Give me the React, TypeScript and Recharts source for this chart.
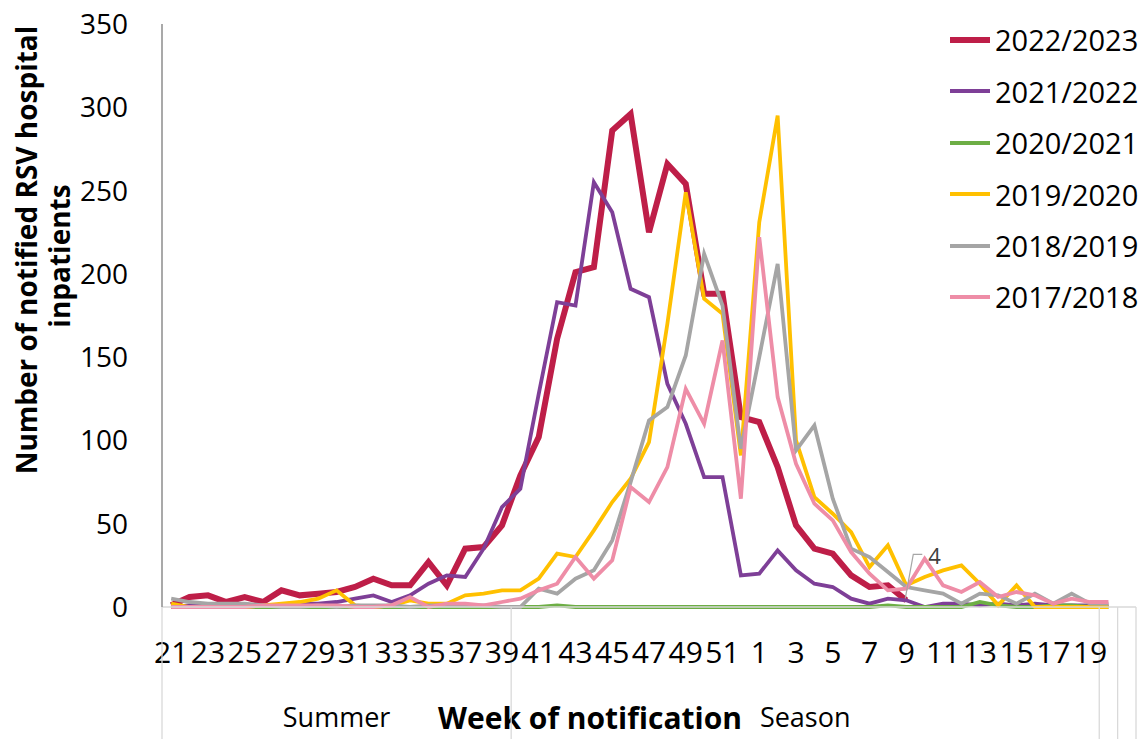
import React from 'react';
import { LineChart, Line, XAxis, YAxis, Legend, LabelList } from 'recharts';

// Week of notification: summer weeks 21-39, season weeks 40-19, then week 20 and a spare slot
const weeks = [
  '21', '22', '23', '24', '25', '26', '27', '28', '29', '30', '31', '32', '33', '34', '35', '36', '37', '38', '39',
  '40', '41', '42', '43', '44', '45', '46', '47', '48', '49', '50', '51', '52',
  '1', '2', '3', '4', '5', '6', '7', '8', '9', '10', '11', '12', '13', '14', '15', '16', '17', '18', '19', '20',
  ' ',
];

// Axis group bands (start index, end index) under the week labels
const groups = [
  { name: 'Summer', from: 0, to: 18 },
  { name: 'Season', from: 19, to: 50 },
  { name: '', from: 51, to: 51 },
  { name: '', from: 52, to: 52 },
];

const yTicks = [0, 50, 100, 150, 200, 250, 300, 350];

// Weekly counts of notified RSV hospital inpatients, from week 21 onwards
const season2022_23 = [
  1, 6, 7, 3, 6, 3, 10, 7, 8, 9, 12, 17, 13, 13, 27, 13, 35, 36, 49,
  79, 102, 161, 201, 204, 286, 296, 225, 266, 254, 188, 188, 114,
  111, 84, 49, 35, 32, 19, 12, 13, 4,
];
const season2021_22 = [
  0, 1, 1, 1, 0, 1, 1, 2, 2, 3, 5, 7, 3, 7, 14, 19, 18, 35, 60,
  71, 128, 183, 181, 255, 237, 191, 186, 134, 110, 78, 78, 19,
  20, 34, 22, 14, 12, 5, 2, 5, 4, 0, 2, 2, 1, 2, 1, 2, 1, 1, 1, 1,
];
const season2020_21 = [
  0, 0, 0, 0, 0, 0, 0, 0, 0, 0, 0, 0, 0, 0, 0, 0, 0, 0, 0,
  0, 0, 1, 0, 0, 0, 0, 0, 0, 0, 0, 0, 0,
  0, 0, 0, 0, 0, 0, 0, 1, 0, 0, 0, 0, 3, 1, 0, 0, 1, 1, 0, 0,
];
const season2019_20 = [
  2, 0, 0, 0, 0, 1, 2, 3, 5, 10, 1, 0, 1, 4, 2, 2, 7, 8, 10,
  10, 17, 32, 30, 46, 63, 77, 99, 170, 249, 185, 176, 91,
  231, 295, 100, 66, 56, 45, 24, 37, 13, 18, 22, 25, 14, 1, 13, 0, 0, 0, 0, 0,
];
const season2018_19 = [
  5, 3, 2, 2, 2, 1, 0, 0, 1, 0, 1, 1, 1, 0, 1, 1, 1, 1, 0,
  0, 11, 8, 17, 22, 40, 75, 112, 120, 151, 212, 181, 95,
  150, 206, 94, 109, 65, 35, 30, 21, 12, 10, 8, 2, 8, 7, 2, 8, 2, 8, 2, 2,
];
const season2017_18 = [
  0, 0, 0, 0, 0, 1, 1, 1, 1, 1, 0, 0, 1, 6, 0, 2, 2, 1, 3,
  5, 10, 14, 30, 17, 28, 72, 63, 84, 131, 110, 160, 65,
  222, 126, 86, 62, 52, 33, 20, 10, 11, 29, 13, 9, 15, 6, 9, 7, 2, 5, 3, 3,
];

const series = [
  { key: 's2223', name: '2022/2023', color: '#BE1E48', width: 6, values: season2022_23 },
  { key: 's2122', name: '2021/2022', color: '#7E3F97', width: 3.8, values: season2021_22 },
  { key: 's2021', name: '2020/2021', color: '#6DAE45', width: 3.8, values: season2020_21 },
  { key: 's1920', name: '2019/2020', color: '#FFC000', width: 3.8, values: season2019_20 },
  { key: 's1819', name: '2018/2019', color: '#A5A5A5', width: 3.8, values: season2018_19 },
  { key: 's1718', name: '2017/2018', color: '#EE8DA7', width: 3.8, values: season2017_18 },
];

const rows = weeks.map((week, i) => {
  const row: Record<string, any> = { week };
  series.forEach((s) => {
    row[s.key] = s.values[i] ?? null;
  });
  return row;
});

const LAST_CURRENT = season2022_23.length - 1;

const FONT = "'Open Sans', 'DejaVu Sans', sans-serif";
const WIDTH = 1146;
const HEIGHT = 739;
const MARGIN = { top: 24, right: 10, bottom: 0, left: 0 };
const Y_AXIS_W = 162;
const X_AXIS_H = 132;
const PLOT_W = WIDTH - MARGIN.right - Y_AXIS_W;
const BAND = PLOT_W / weeks.length;
const X_TICK_MARGIN = 35;
const GRID = '#D9D9D9';

function WeekTick(props: any) {
  const { x, y, payload } = props;
  const idx = weeks.indexOf(payload.value);
  const axisY = y - X_TICK_MARGIN;
  const left = x - BAND / 2;
  const bounds = [0, ...groups.map((g) => g.to + 1)];
  return (
    <g>
      <text x={x} y={y} dy="0.71em" textAnchor="middle" fontSize={30} fill="#000" fontFamily={FONT}>
        {payload.value}
      </text>
      {idx === 0 && (
        <g>
          {bounds.map((b) => (
            <line key={b} x1={left + b * BAND} x2={left + b * BAND} y1={axisY} y2={axisY + X_AXIS_H} stroke={GRID} strokeWidth={1.3} />
          ))}
          {groups.filter((g) => g.name).map((g) => (
            <text
              key={g.name}
              x={left + ((g.from + g.to + 1) / 2) * BAND}
              y={axisY + 120}
              textAnchor="middle"
              fontSize={27}
              fill="#000"
              fontFamily={FONT}
            >
              {g.name}
            </text>
          ))}
        </g>
      )}
    </g>
  );
}

function YTitle() {
  return (
    <g fontFamily={FONT} fontWeight={700} fontSize={28} fill="#000">
      <text transform="rotate(-90)" x={-250} y={37} textAnchor="middle">
        Number of notified RSV hospital
      </text>
      <text transform="rotate(-90)" x={-256} y={70} textAnchor="middle">
        inpatients
      </text>
    </g>
  );
}

function XTitle() {
  return (
    <text x={590} y={729} textAnchor="middle" fontFamily={FONT} fontWeight={700} fontSize={30} fill="#000">
      Week of notification
    </text>
  );
}

function LastValueLabel(props: any) {
  const { index, value } = props;
  const x = props.x ?? props.viewBox?.x;
  const y = props.y ?? props.viewBox?.y;
  if (index !== LAST_CURRENT || value == null || x == null || y == null) return null;
  return (
    <g>
      <polyline
        points={`${x - 1},${y - 2} ${x + 7},${y - 46} ${x + 16},${y - 46}`}
        fill="none"
        stroke="#A6A6A6"
        strokeWidth={1.2}
      />
      <text x={x + 22} y={y - 45} dominantBaseline="central" fontSize={22} fill="#404040" fontFamily={FONT}>
        {value}
      </text>
    </g>
  );
}

function SeasonLegend() {
  return (
    <div style={{ fontFamily: FONT, fontSize: 29, color: '#000' }}>
      {series.map((s) => (
        <div key={s.key} style={{ display: 'flex', alignItems: 'center', height: 51.4 }}>
          <svg width={46} height={10} style={{ display: 'block' }}>
            <line x1={3} x2={43} y1={5} y2={5} stroke={s.color} strokeWidth={s.width} />
          </svg>
          <span style={{ marginLeft: 2, lineHeight: 1, whiteSpace: 'nowrap' }}>{s.name}</span>
        </div>
      ))}
    </div>
  );
}

export default function App() {
  return (
    <div style={{ position: 'absolute', left: 0, top: 0, width: WIDTH, height: HEIGHT, background: '#fff', fontFamily: FONT }}>
      <LineChart width={WIDTH} height={HEIGHT} data={rows} margin={MARGIN}>
        <XAxis
          dataKey="week"
          type="category"
          interval={1}
          height={X_AXIS_H}
          padding={{ left: BAND / 2, right: BAND / 2 }}
          tickLine={false}
          tickSize={0}
          tickMargin={X_TICK_MARGIN}
          axisLine={{ stroke: GRID, strokeWidth: 1.3 }}
          tick={<WeekTick />}
          label={<XTitle />}
        />
        <YAxis
          domain={[0, 350]}
          ticks={yTicks}
          interval={0}
          width={Y_AXIS_W}
          tickLine={false}
          tickSize={0}
          tickMargin={34}
          axisLine={{ stroke: '#8C8C8C', strokeWidth: 1.5 }}
          tick={{ fontSize: 28, fill: '#000', fontFamily: FONT }}
          label={<YTitle />}
        />
        <Legend
          layout="vertical"
          align="center"
          verticalAlign="middle"
          content={<SeasonLegend />}
          wrapperStyle={{ left: 947, top: 14.3, width: 199, right: 'auto', bottom: 'auto' }}
        />
        {series.map((s) => (
          <Line
            key={s.key}
            type="linear"
            dataKey={s.key}
            name={s.name}
            stroke={s.color}
            strokeWidth={s.width}
            dot={false}
            activeDot={false}
            isAnimationActive={false}
            connectNulls={false}
          >
            {s.key === 's2223' && <LabelList dataKey={s.key} content={<LastValueLabel />} />}
          </Line>
        ))}
      </LineChart>
    </div>
  );
}
